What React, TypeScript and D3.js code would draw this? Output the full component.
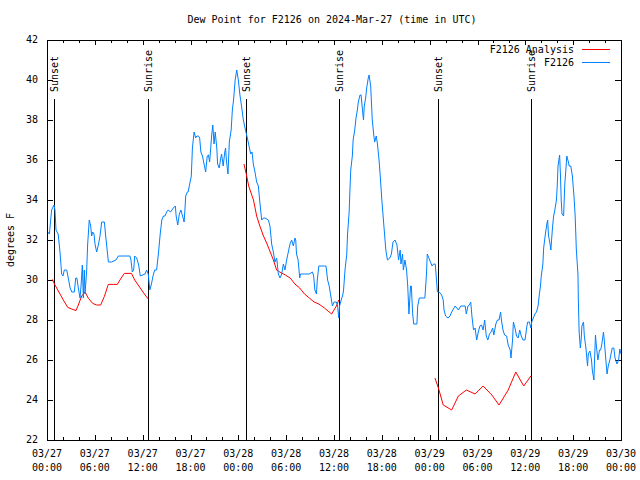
import * as d3 from "d3";

// Observed dew point for F2126: [hours since 03/27 00:00 UTC, degrees F]
const stationObs: [number, number][] = [
  [0.1, 32.4], [0.3, 32.3], [0.58, 33.5], [0.88, 33.75], [1.0, 33.5], [1.13, 32.5], [1.4, 32.3],
  [1.63, 31.4], [1.84, 30.3], [2.0, 30.2], [2.17, 30.5], [2.47, 30.5], [2.67, 30.1], [2.9, 29.6],
  [3.1, 29.4], [3.43, 29.4], [3.6, 30.1], [3.75, 30.1], [3.93, 29.6], [4.14, 29.1], [4.27, 29.7],
  [4.43, 30.75], [4.56, 29.1], [4.68, 30.5], [4.77, 29.3], [4.98, 30.5], [5.1, 31.8], [5.3, 33.0],
  [5.48, 32.7], [5.6, 32.2], [5.73, 32.4], [5.9, 32.3], [6.02, 31.8], [6.23, 31.4], [6.44, 31.75],
  [6.65, 32.2], [6.86, 32.9], [7.2, 32.9], [7.36, 32.2], [7.57, 31.4], [7.7, 30.9], [8.1, 30.9],
  [8.65, 31.0], [8.95, 31.2], [9.6, 31.2], [10.4, 31.2], [10.53, 31.0], [10.7, 30.4], [10.87, 30.5],
  [11.0, 31.2], [11.25, 31.1], [11.5, 30.75], [11.7, 30.2], [12.3, 30.3], [12.5, 30.5], [12.7, 30.3],
  [12.9, 29.5], [13.1, 29.8], [13.3, 30.2], [13.5, 30.5], [13.75, 30.5], [13.97, 31.3], [14.2, 32.3],
  [14.4, 33.0], [14.6, 33.2], [14.8, 33.2], [15.0, 33.4], [15.2, 33.5], [15.5, 33.4], [15.85, 33.6],
  [16.1, 33.7], [16.2, 33.2], [16.4, 32.75], [16.6, 33.3], [16.8, 33.5], [17.0, 33.2], [17.2, 32.9],
  [17.3, 33.5], [17.4, 34.2], [17.6, 34.4], [17.7, 34.4], [17.85, 34.7], [18.1, 35.2], [18.24, 36.6],
  [18.45, 37.4], [18.65, 37.1], [18.8, 37.2], [19.0, 37.2], [19.15, 37.1], [19.3, 36.4], [19.5, 36.2],
  [19.7, 35.8], [19.9, 35.4], [20.1, 36.2], [20.25, 36.25], [20.4, 35.9], [20.65, 37.2], [20.8, 37.75],
  [20.95, 36.8], [21.1, 37.4], [21.3, 36.6], [21.4, 35.8], [21.6, 35.6], [21.8, 36.1], [21.9, 36.3],
  [22.1, 35.7], [22.3, 36.4], [22.4, 36.6], [22.5, 36.0], [22.7, 35.3], [22.87, 36.9], [23.1, 37.5],
  [23.25, 38.5], [23.4, 39.0], [23.6, 40.0], [23.8, 40.5], [24.0, 40.0], [24.2, 39.25], [24.4, 38.7],
  [24.63, 38.0], [24.84, 37.6], [25.13, 37.1], [25.34, 36.7], [25.55, 36.3], [25.72, 36.4], [25.88, 35.8],
  [26.09, 35.4], [26.3, 34.9], [26.51, 34.7], [26.72, 33.8], [26.93, 33.0], [27.14, 33.1], [27.35, 33.1],
  [27.76, 33.0], [27.97, 32.7], [28.18, 31.8], [28.39, 31.4], [28.6, 30.9], [28.81, 31.1], [29.02, 30.3],
  [29.23, 30.1], [29.44, 30.3], [29.65, 30.8], [29.85, 30.5], [30.06, 31.0], [30.27, 31.4], [30.48, 31.8],
  [30.69, 32.0], [30.9, 31.7], [31.1, 32.1], [31.2, 32.0], [31.3, 31.3], [31.5, 31.0], [31.7, 30.1],
  [31.8, 30.3], [32.3, 30.3], [32.9, 30.3], [33.3, 30.4], [33.45, 30.2], [33.6, 29.5], [33.8, 29.3],
  [33.9, 30.0], [34.1, 30.7], [34.8, 30.7], [35.0, 30.7], [35.2, 30.0], [35.4, 29.7], [35.6, 29.2],
  [35.8, 28.7], [36.0, 28.9], [36.3, 28.9], [36.45, 28.7], [36.6, 28.1], [36.7, 28.7], [36.9, 29.0],
  [37.1, 29.25], [37.2, 29.5], [37.38, 30.5], [37.6, 31.3], [37.7, 32.3], [37.9, 33.4], [38.0, 34.5],
  [38.1, 35.5], [38.3, 36.2], [38.4, 37.0], [38.6, 37.5], [38.76, 38.1], [38.93, 38.5], [39.05, 38.9],
  [39.26, 39.25], [39.4, 39.25], [39.55, 38.6], [39.7, 38.0], [39.8, 38.7], [39.97, 39.1], [40.1, 39.6],
  [40.3, 40.1], [40.4, 40.25], [40.6, 39.7], [40.8, 38.0], [41.0, 37.2], [41.1, 36.9], [41.3, 37.2],
  [41.45, 36.8], [41.65, 36.0], [41.8, 35.2], [42.0, 34.0], [42.2, 33.0], [42.4, 32.0], [42.5, 31.5],
  [42.7, 31.0], [43.0, 31.1], [43.2, 31.3], [43.4, 31.9], [43.65, 32.0], [43.9, 31.75], [44.1, 31.0],
  [44.3, 31.5], [44.4, 30.8], [44.6, 31.3], [44.7, 30.5], [44.9, 31.0], [45.1, 30.5], [45.25, 29.7],
  [45.4, 28.3], [45.6, 29.7], [45.7, 29.7], [45.87, 28.3], [46.0, 27.8], [46.4, 27.8], [46.5, 28.7],
  [46.7, 29.1], [47.4, 29.1], [47.6, 30.3], [47.7, 31.3], [47.9, 31.1], [48.1, 30.9], [48.3, 30.7],
  [48.5, 30.8], [48.7, 30.8], [48.8, 30.3], [48.97, 29.4], [49.2, 29.4], [49.5, 29.25], [49.7, 29.0],
  [49.8, 28.5], [50.0, 28.2], [50.3, 28.1], [50.55, 28.2], [50.76, 28.4], [51.05, 28.6], [51.2, 28.7],
  [51.4, 28.6], [51.6, 28.5], [51.9, 28.7], [52.2, 28.7], [52.45, 28.7], [52.6, 28.3], [52.8, 28.7],
  [52.98, 28.75], [53.15, 28.9], [53.3, 28.2], [53.5, 27.5], [53.7, 27.6], [53.9, 27.0], [54.1, 27.4],
  [54.3, 27.7], [54.5, 27.75], [54.7, 27.5], [54.9, 28.0], [55.1, 27.2], [55.3, 27.0], [55.5, 27.3],
  [55.7, 27.4], [55.9, 27.6], [56.05, 27.25], [56.3, 27.8], [56.5, 28.0], [56.7, 28.0], [56.9, 28.4],
  [57.0, 28.0], [57.2, 27.5], [57.4, 27.25], [57.65, 27.2], [57.85, 26.75], [58.1, 26.5], [58.2, 26.1],
  [58.4, 27.0], [58.5, 27.9], [58.7, 27.6], [58.9, 27.2], [59.1, 27.1], [59.3, 27.5], [59.45, 27.25],
  [59.7, 27.0], [59.96, 27.0], [60.2, 27.7], [60.3, 27.9], [60.5, 27.9], [60.7, 27.6], [60.8, 27.9],
  [61.0, 28.1], [61.2, 28.3], [61.4, 28.4], [61.6, 28.7], [61.76, 29.3], [61.9, 29.7], [62.0, 30.2],
  [62.2, 30.8], [62.3, 31.6], [62.5, 32.25], [62.7, 32.8], [62.8, 33.0], [62.9, 32.25], [63.1, 31.8],
  [63.2, 31.5], [63.4, 32.6], [63.55, 33.2], [63.7, 33.5], [63.9, 34.0], [64.0, 34.7], [64.1, 35.7],
  [64.3, 36.25], [64.4, 35.3], [64.5, 34.0], [64.6, 33.3], [64.8, 33.2], [64.95, 34.8], [65.1, 35.6],
  [65.2, 36.2], [65.4, 35.9], [65.5, 35.7], [65.7, 35.7], [65.9, 35.2], [66.1, 34.2], [66.25, 33.2],
  [66.4, 31.5], [66.6, 30.3], [66.65, 29.0], [66.75, 27.4], [66.9, 26.6], [67.0, 27.0], [67.1, 27.7],
  [67.3, 27.9], [67.4, 27.2], [67.6, 26.6], [67.8, 25.7], [67.9, 26.3], [68.1, 26.45], [68.3, 26.0],
  [68.4, 25.5], [68.6, 25.0], [68.7, 26.2], [68.8, 27.25], [68.9, 26.75], [69.1, 26.0], [69.3, 26.5],
  [69.45, 26.5], [69.6, 26.8], [69.8, 27.4], [69.9, 27.0], [70.1, 26.0], [70.25, 25.3], [70.4, 25.7],
  [70.6, 26.0], [70.75, 26.3], [70.9, 26.6], [71.1, 26.6], [71.25, 26.1], [71.5, 25.8], [71.7, 26.0],
  [71.85, 26.55], [72.0, 26.3],
];

// Analysis dew point, only available overnight (three separate runs)
const analysisNight1: [number, number][] = [
  [0.67, 30.03], [1.0, 29.75], [1.63, 29.3], [2.05, 29.0], [2.6, 28.63], [3.1, 28.55], [3.64, 28.47],
  [3.93, 28.75], [4.35, 29.2], [4.77, 29.4], [5.2, 29.08], [5.73, 28.83], [6.23, 28.75], [6.73, 28.75],
  [7.19, 29.17], [7.69, 29.78], [8.32, 29.78], [8.82, 29.78], [9.15, 30.0], [9.7, 30.33], [10.6, 30.33],
  [11.0, 30.0], [11.7, 29.6], [12.3, 29.25], [12.71, 29.05],
];
const analysisNight2: [number, number][] = [
  [24.7, 35.8], [25.0, 35.3], [25.3, 34.7], [25.9, 34.0], [26.3, 33.2], [26.7, 32.7], [27.1, 32.25],
  [27.6, 31.8], [28.0, 31.4], [28.4, 31.0], [28.8, 30.5], [29.2, 30.4], [29.9, 30.25], [30.5, 30.1],
  [31.1, 29.8], [31.7, 29.6], [32.3, 29.3], [32.9, 29.1], [33.5, 28.9], [34.1, 28.8], [34.8, 28.6],
  [35.4, 28.4], [35.7, 28.3], [36.3, 28.7], [36.6, 29.0],
];
const analysisNight3: [number, number][] = [
  [48.66, 25.1], [49.1, 24.6], [49.7, 23.75], [50.76, 23.5], [51.6, 24.2], [52.6, 24.5], [53.7, 24.3],
  [54.7, 24.7], [55.8, 24.25], [56.7, 23.75], [57.85, 24.5], [58.8, 25.4], [59.8, 24.7], [60.7, 25.2],
];

const sunHours = [0.92, 12.71, 25.0, 36.67, 49.08, 60.75];
const sunLabels = ["Sunset", "Sunrise", "Sunset", "Sunrise", "Sunset", "Sunrise"];

const xTickHours = [0, 6, 12, 18, 24, 30, 36, 42, 48, 54, 60, 66, 72];
const xTickDates = ["03/27", "03/27", "03/27", "03/27", "03/28", "03/28", "03/28", "03/28", "03/29", "03/29", "03/29", "03/29", "03/30"];
const xTickTimes = ["00:00", "06:00", "12:00", "18:00", "00:00", "06:00", "12:00", "18:00", "00:00", "06:00", "12:00", "18:00", "00:00"];
const yTicks = [22, 24, 26, 28, 30, 32, 34, 36, 38, 40, 42];

const FONT = "'DejaVu Sans Mono', 'Liberation Mono', monospace";
const BLUE = "#0080ff";
const RED = "#ff0000";

export default function App() {
  const left = 47, right = 621, top = 40, bottom = 440;
  const x = d3.scaleLinear().domain([0, 72]).range([left, right]);
  const y = d3.scaleLinear().domain([22, 42]).range([bottom, top]);
  const line = d3.line<[number, number]>().x(d => x(d[0])).y(d => y(d[1]));
  const minorHours = d3.range(0, 73, 2).filter(h => h % 6 !== 0);

  return (
    <svg width={640} height={480} style={{ position: "absolute", left: 0, top: 0, background: "#fff" }}
      fontFamily={FONT} fontSize={10}>
      <rect width={640} height={480} fill="#fff" />

      <text x={332} y={20} textAnchor="middle" dominantBaseline="middle">
        Dew Point for F2126 on 2024-Mar-27 (time in UTC)
      </text>

      {/* ticks on all four borders */}
      <g stroke="#000" shapeRendering="crispEdges">
        {yTicks.map(t => (
          <g key={"y" + t}>
            <line x1={left} x2={left + 6} y1={Math.round(y(t)) + 0.5} y2={Math.round(y(t)) + 0.5} />
            <line x1={right - 6} x2={right} y1={Math.round(y(t)) + 0.5} y2={Math.round(y(t)) + 0.5} />
          </g>
        ))}
        {xTickHours.map(h => (
          <g key={"x" + h}>
            <line x1={Math.round(x(h)) + 0.5} x2={Math.round(x(h)) + 0.5} y1={bottom} y2={bottom - 5} />
            <line x1={Math.round(x(h)) + 0.5} x2={Math.round(x(h)) + 0.5} y1={top} y2={top + 5} />
          </g>
        ))}
        {minorHours.map(h => (
          <g key={"m" + h}>
            <line x1={Math.round(x(h)) + 0.5} x2={Math.round(x(h)) + 0.5} y1={bottom} y2={bottom - 3} />
            <line x1={Math.round(x(h)) + 0.5} x2={Math.round(x(h)) + 0.5} y1={top} y2={top + 3} />
          </g>
        ))}
      </g>

      {yTicks.map(t => (
        <text key={"yl" + t} x={38} y={y(t)} textAnchor="end" dominantBaseline="middle">{t}</text>
      ))}
      {xTickHours.map((h, i) => (
        <g key={"xl" + h}>
          <text x={x(h)} y={454} textAnchor="middle" dominantBaseline="middle">{xTickDates[i]}</text>
          <text x={x(h)} y={468} textAnchor="middle" dominantBaseline="middle">{xTickTimes[i]}</text>
        </g>
      ))}

      <text transform="translate(11,240) rotate(-90)" textAnchor="middle" dominantBaseline="middle">degrees F</text>

      {/* sunrise / sunset markers */}
      {sunHours.map((h, i) => (
        <g key={"sun" + i}>
          <line x1={Math.round(x(h)) + 0.5} x2={Math.round(x(h)) + 0.5} y1={99} y2={bottom}
            stroke="#000" shapeRendering="crispEdges" />
          <text transform={`translate(${Math.round(x(h)) + 1},92) rotate(-90)`} textAnchor="start"
            dominantBaseline="middle">{sunLabels[i]}</text>
        </g>
      ))}

      <g fill="none" strokeWidth={1}>
        {[analysisNight1, analysisNight2, analysisNight3].map((seg, i) => (
          <path key={"a" + i} d={line(seg) ?? ""} stroke={RED} />
        ))}
        <path d={line(stationObs) ?? ""} stroke={BLUE} />
      </g>

      {/* legend */}
      <text x={574} y={50} textAnchor="end" dominantBaseline="middle">F2126 Analysis</text>
      <line x1={582} x2={610} y1={49.5} y2={49.5} stroke={RED} />
      <text x={574} y={63} textAnchor="end" dominantBaseline="middle">F2126</text>
      <line x1={582} x2={610} y1={62.5} y2={62.5} stroke={BLUE} />

      <rect x={left + 0.5} y={top + 0.5} width={right - left} height={bottom - top}
        fill="none" stroke="#000" shapeRendering="crispEdges" />
    </svg>
  );
}
